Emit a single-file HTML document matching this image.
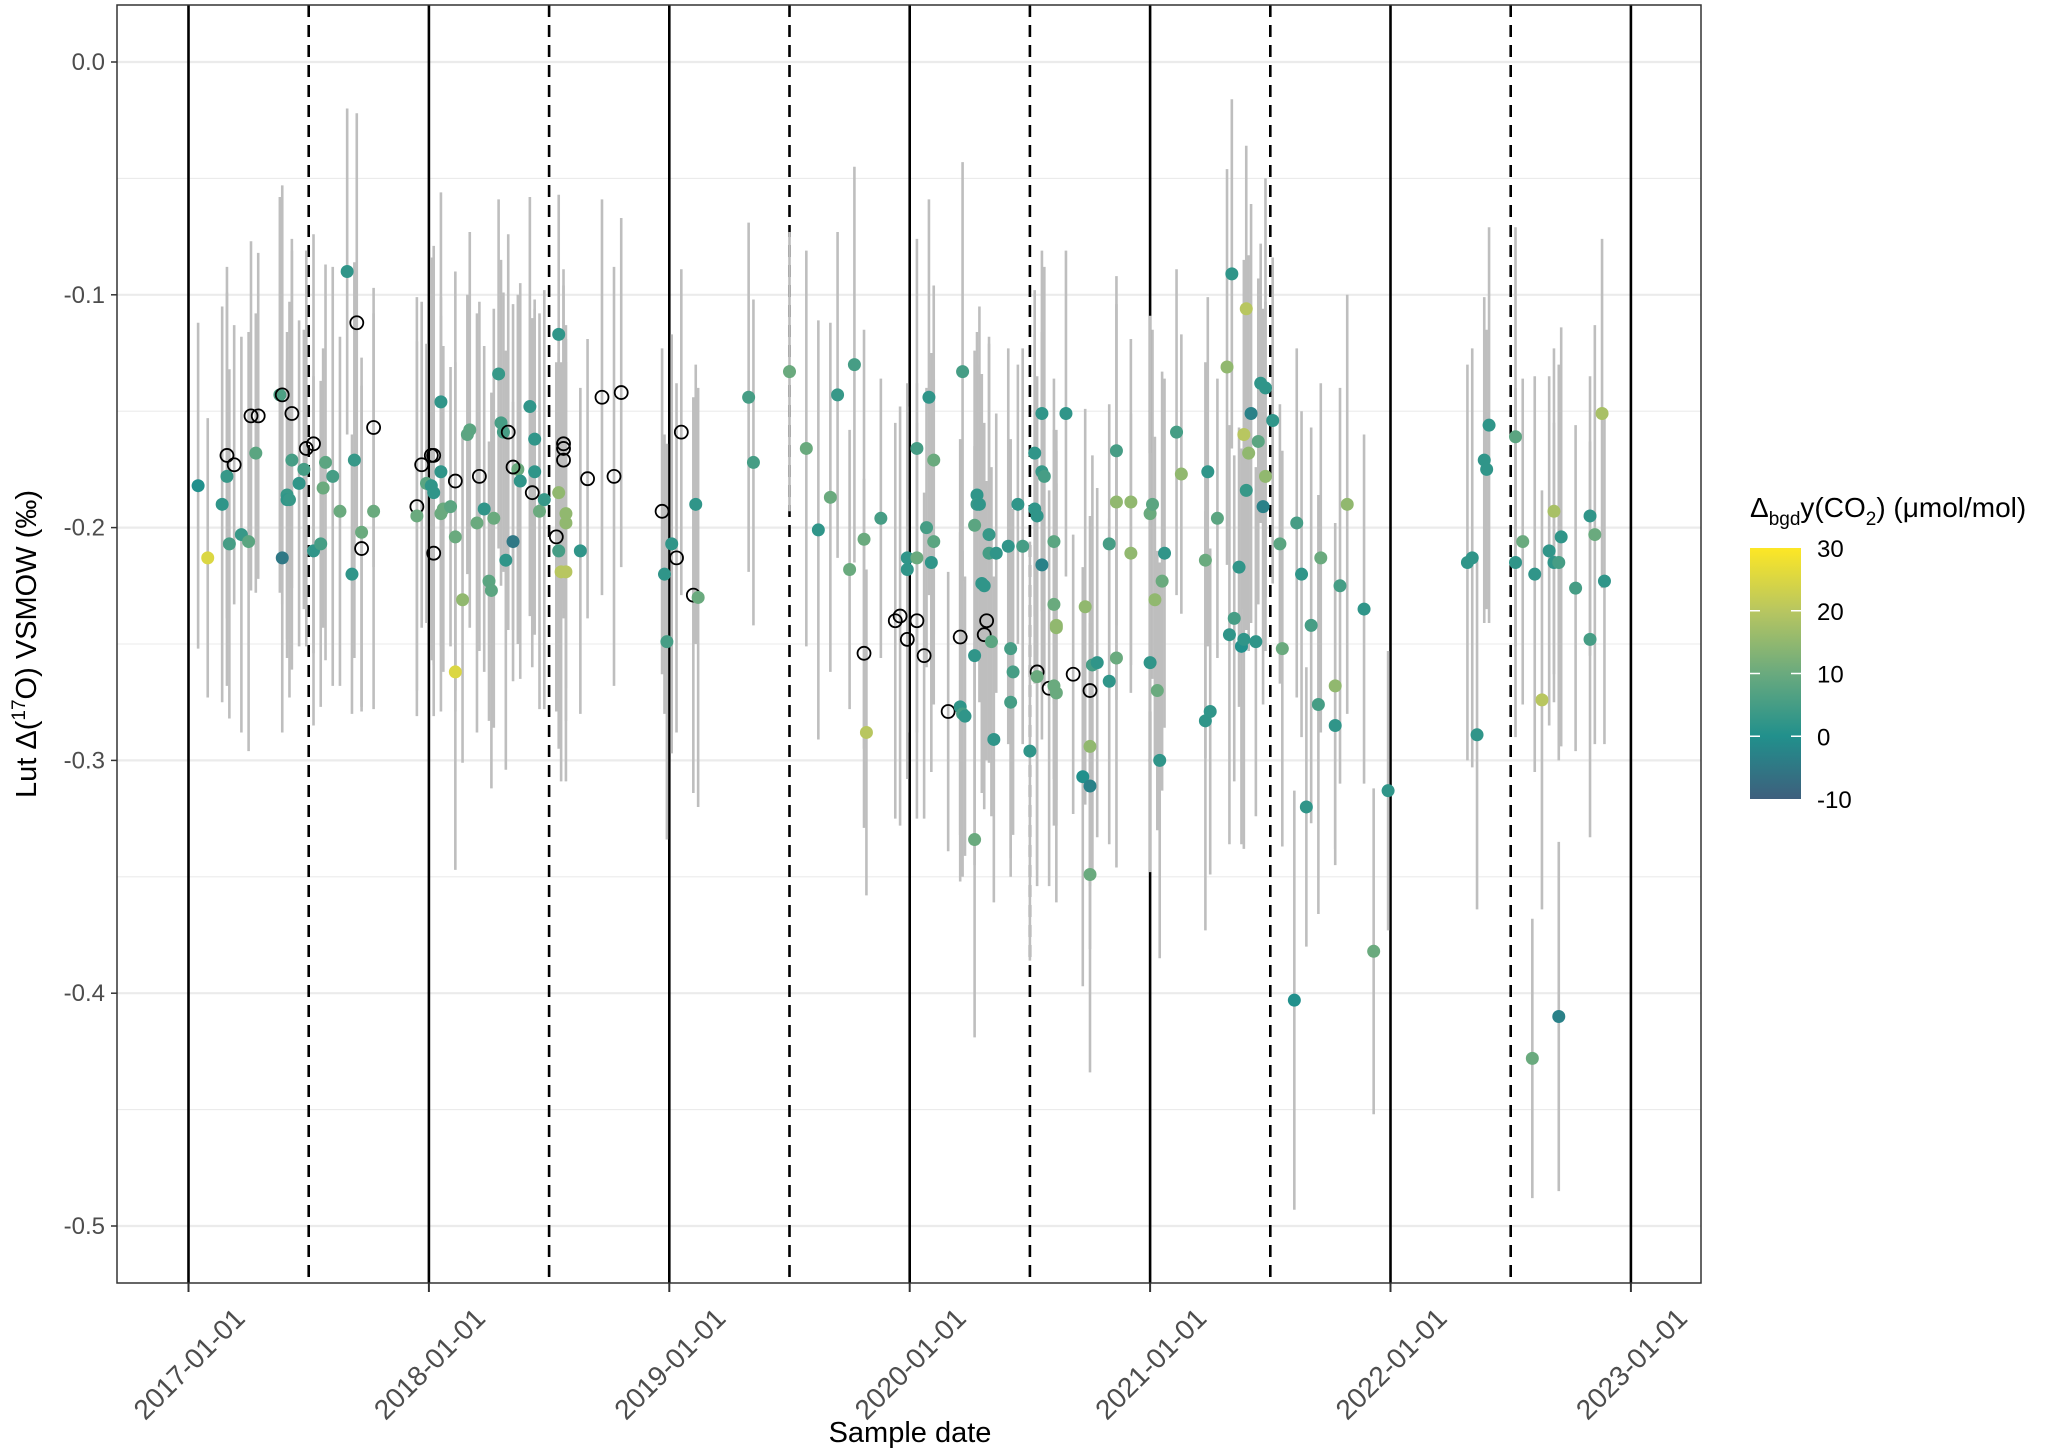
<!DOCTYPE html>
<html><head><meta charset="utf-8"><style>
html,body{margin:0;padding:0;background:#fff}
svg{display:block;font-family:"Liberation Sans",sans-serif}
</style></head><body>
<svg id="chart" width="2067" height="1453" viewBox="0 0 2067 1453" xmlns="http://www.w3.org/2000/svg">
<defs><linearGradient id="vir" x1="0" y1="1" x2="0" y2="0">
<stop offset="0" stop-color="#3e5f7d"/><stop offset="0.25" stop-color="#21908c"/><stop offset="0.5" stop-color="#6aaa7e"/><stop offset="0.75" stop-color="#b8c660"/><stop offset="1" stop-color="#fde725"/></linearGradient></defs>
<g id="grid"></g>
<g id="vlines"></g>
<g id="errs"></g>
<g id="pts"></g>
<rect x="117" y="5" width="1584" height="1278" fill="none" stroke="#333" stroke-width="1.5"/>
<g id="axes"></g>
<text x="910" y="1442" font-size="29" text-anchor="middle" fill="#000">Sample date</text>
<text transform="translate(36,644) rotate(-90)" font-size="29" text-anchor="middle" fill="#000">Lut Δ(<tspan font-size="19" dy="-11">17</tspan><tspan dy="11">O) VSMOW (‰)</tspan></text>
<g>
<text x="1750" y="517" font-size="28" fill="#000">Δ<tspan font-size="19" dy="8">bgd</tspan><tspan dy="-8">y(CO</tspan><tspan font-size="19" dy="8">2</tspan><tspan dy="-8">) (μmol/mol)</tspan></text>
<rect x="1750" y="548" width="51" height="251" fill="url(#vir)"/>
<g id="cbticks"></g>
</g>
</svg>
<script>
const yearTicks=[2017,2018,2019,2020,2021,2022,2023];
const halfYears=[2017.5,2018.5,2019.5,2020.5,2021.5,2022.5];
const yTicks=[0,-0.1,-0.2,-0.3,-0.4,-0.5];
const yTickLabels=["0.0","-0.1","-0.2","-0.3","-0.4","-0.5"];
const cbTicks=[-10,0,10,20,30];
const dates=[
2017.04,2017.08,2017.14,2017.16,2017.17,2017.16,2017.19,2017.22,2017.25,2017.26,
2017.29,2017.28,2017.38,2017.39,2017.39,2017.41,2017.41,2017.42,2017.43,2017.43,
2017.46,2017.48,2017.49,2017.52,2017.52,2017.55,2017.56,2017.57,2017.60,2017.63,
2017.66,2017.68,2017.69,2017.70,2017.72,2017.72,2017.77,2017.77,
2017.95,2017.95,2017.97,2017.99,2018.01,2018.02,2018.01,2018.02,2018.02,2018.05,
2018.05,2018.05,2018.06,2018.09,2018.11,2018.11,2018.11,2018.14,2018.16,2018.17,
2018.20,2018.21,2018.23,2018.25,2018.26,2018.27,2018.29,2018.30,2018.31,2018.33,
2018.32,2018.37,2018.35,2018.35,2018.38,2018.42,2018.43,2018.44,2018.44,2018.46,
2018.48,2018.53,2018.54,2018.54,2018.54,2018.55,2018.56,2018.56,2018.56,2018.57,
2018.57,2018.57,2018.63,2018.66,2018.72,2018.77,2018.80,
2018.97,2018.98,2018.99,2019.01,2019.03,2019.05,2019.11,2019.10,2019.12,2019.33,
2019.35,2019.50,2019.57,2019.62,2019.67,2019.70,2019.75,2019.77,2019.81,2019.81,
2019.82,2019.88,2019.94,2019.96,2019.99,2019.99,2019.99,2020.03,2020.03,2020.03,
2020.06,2020.07,2020.08,2020.09,2020.10,2020.10,2020.16,2020.21,2020.22,2020.21,
2020.22,2020.23,2020.27,2020.27,2020.27,2020.28,2020.28,2020.29,2020.30,2020.31,
2020.31,2020.32,2020.33,2020.33,2020.34,2020.35,2020.36,2020.41,2020.42,2020.42,
2020.43,2020.45,2020.47,2020.50,2020.52,2020.52,2020.53,2020.53,2020.53,2020.55,
2020.55,2020.55,2020.58,2020.56,2020.60,2020.60,2020.60,2020.61,2020.61,2020.61,
2020.65,2020.68,2020.73,2020.72,2020.75,2020.75,2020.75,2020.75,2020.76,2020.78,
2020.83,2020.83,2020.86,2020.86,2020.86,2020.92,2020.92,
2021.00,2021.00,2021.01,2021.02,2021.03,2021.04,2021.05,2021.06,2021.11,2021.13,
2021.23,2021.23,2021.24,2021.25,2021.28,2021.32,2021.33,2021.34,2021.35,2021.37,
2021.38,2021.39,2021.39,2021.40,2021.40,2021.41,2021.42,2021.44,2021.45,2021.46,
2021.47,2021.48,2021.48,2021.51,2021.54,2021.55,2021.60,2021.61,2021.63,2021.65,
2021.67,2021.70,2021.71,2021.77,2021.77,2021.79,2021.82,2021.89,2021.93,2021.99,
2022.32,2022.34,2022.36,2022.39,2022.40,2022.41,2022.52,2022.52,2022.55,2022.59,
2022.60,2022.63,2022.66,2022.68,2022.68,2022.70,2022.71,2022.70,2022.77,2022.83,
2022.83,2022.85,2022.88,2022.89];
const values=[
-0.182,-0.213,-0.190,-0.178,-0.207,-0.169,-0.173,-0.203,-0.206,-0.152,
-0.152,-0.168,-0.143,-0.143,-0.213,-0.186,-0.188,-0.188,-0.171,-0.151,
-0.181,-0.175,-0.166,-0.164,-0.210,-0.207,-0.183,-0.172,-0.178,-0.193,
-0.090,-0.220,-0.171,-0.112,-0.202,-0.209,-0.157,-0.193,
-0.191,-0.195,-0.173,-0.181,-0.169,-0.169,-0.182,-0.211,-0.185,-0.194,
-0.146,-0.176,-0.192,-0.191,-0.262,-0.180,-0.204,-0.231,-0.160,-0.158,
-0.198,-0.178,-0.192,-0.223,-0.227,-0.196,-0.134,-0.155,-0.159,-0.159,
-0.214,-0.175,-0.174,-0.206,-0.180,-0.148,-0.185,-0.176,-0.162,-0.193,
-0.188,-0.204,-0.185,-0.117,-0.210,-0.219,-0.164,-0.166,-0.171,-0.198,
-0.219,-0.194,-0.210,-0.179,-0.144,-0.178,-0.142,
-0.193,-0.220,-0.249,-0.207,-0.213,-0.159,-0.190,-0.229,-0.230,-0.144,
-0.172,-0.133,-0.166,-0.201,-0.187,-0.143,-0.218,-0.130,-0.205,-0.254,
-0.288,-0.196,-0.240,-0.238,-0.213,-0.218,-0.248,-0.240,-0.166,-0.213,
-0.255,-0.200,-0.144,-0.215,-0.171,-0.206,-0.279,-0.247,-0.133,-0.277,
-0.280,-0.281,-0.334,-0.255,-0.199,-0.186,-0.190,-0.190,-0.224,-0.246,
-0.225,-0.240,-0.203,-0.211,-0.249,-0.291,-0.211,-0.208,-0.252,-0.275,
-0.262,-0.190,-0.208,-0.296,-0.192,-0.168,-0.195,-0.262,-0.264,-0.216,
-0.151,-0.176,-0.269,-0.178,-0.233,-0.206,-0.268,-0.243,-0.271,-0.242,
-0.151,-0.263,-0.234,-0.307,-0.270,-0.311,-0.294,-0.349,-0.259,-0.258,
-0.266,-0.207,-0.189,-0.256,-0.167,-0.189,-0.211,
-0.194,-0.258,-0.190,-0.231,-0.270,-0.300,-0.223,-0.211,-0.159,-0.177,
-0.214,-0.283,-0.176,-0.279,-0.196,-0.131,-0.246,-0.091,-0.239,-0.217,
-0.251,-0.248,-0.160,-0.106,-0.184,-0.168,-0.151,-0.249,-0.163,-0.138,
-0.191,-0.140,-0.178,-0.154,-0.207,-0.252,-0.403,-0.198,-0.220,-0.320,
-0.242,-0.276,-0.213,-0.268,-0.285,-0.225,-0.190,-0.235,-0.382,-0.313,
-0.215,-0.213,-0.289,-0.171,-0.175,-0.156,-0.161,-0.215,-0.206,-0.428,
-0.220,-0.274,-0.210,-0.193,-0.215,-0.215,-0.204,-0.410,-0.226,-0.195,
-0.248,-0.203,-0.151,-0.223];
const colorVals=[
0,25,2,3,5,null,null,3,8,null,
null,8,6,null,-5,3,2,3,5,null,
2,5,null,null,2,5,10,8,5,10,
2,2,3,null,10,null,null,10,
null,10,null,8,null,null,2,null,2,10,
2,2,10,8,25,null,10,15,8,8,
10,null,2,8,8,10,3,5,5,null,
2,10,null,-5,2,2,null,2,2,10,
3,null,15,2,5,20,null,null,null,15,
20,15,2,null,null,null,null,
null,2,5,2,null,null,2,null,10,5,
5,10,10,2,10,3,10,5,10,null,
20,5,null,null,2,2,null,null,5,10,
null,5,2,2,10,8,null,null,5,2,
5,2,10,2,8,2,3,2,2,null,
2,null,3,5,8,2,2,2,5,5,
5,2,5,2,2,2,2,null,10,-3,
2,3,null,5,10,8,10,15,10,15,
2,null,15,0,null,-3,15,10,5,2,
2,5,15,10,5,15,15,
10,2,8,15,10,2,10,2,5,15,
10,2,2,2,8,15,2,2,5,2,
0,2,20,20,3,15,-3,2,8,2,
-3,2,15,2,8,10,0,5,2,2,
5,5,10,15,2,5,15,2,10,2,
2,2,2,2,2,2,8,2,10,10,
2,20,2,18,2,5,2,-3,5,2,
5,10,18,2];
const errs=values.map((v,i)=>[0.07,0.06,0.085,0.09,0.075][i%5]);
const NS="http://www.w3.org/2000/svg";
const X=y=>188.5+(y-2017)*240.4;
const Y=v=>62-v*2328;
function mk(tag,attrs,parent){const e=document.createElementNS(NS,tag);for(const k in attrs)e.setAttribute(k,attrs[k]);document.getElementById(parent).appendChild(e);return e;}
const stops=[[-10,[62,95,125]],[0,[33,144,140]],[10,[106,170,126]],[20,[184,198,96]],[30,[253,231,37]]];
function col(c){c=Math.max(-10,Math.min(30,c));for(let i=0;i<4;i++){const a=stops[i],b=stops[i+1];if(c<=b[0]){const t=(c-a[0])/(b[0]-a[0]);return "rgb("+a[1].map((x,j)=>Math.round(x+(b[1][j]-x)*t)).join(",")+")";}}}
for(let k=0;k<=10;k++){const v=-k*0.05;const major=k%2===0;
const g=mk("line",{x1:117,x2:1701,y1:Y(v),y2:Y(v),stroke:"#ebebeb","stroke-width":major?2.2:1.1},"grid");

}
yearTicks.forEach(y=>{const l=mk("line",{x1:X(y),x2:X(y),y1:5,y2:1283,stroke:"#000","stroke-width":2.6},"vlines");

});
halfYears.forEach(y=>{const l=mk("line",{x1:X(y),x2:X(y),y1:5,y2:1283,stroke:"#000","stroke-width":2.6,"stroke-dasharray":"12,8"},"vlines");

});
dates.forEach((d,i)=>{const e=mk("line",{x1:X(d),x2:X(d),y1:Y(values[i]+errs[i]),y2:Y(values[i]-errs[i]),stroke:"#bebebe","stroke-width":2.6},"errs");

});
dates.forEach((d,i)=>{const c=colorVals[i];const p=mk("circle",{cx:X(d),cy:Y(values[i]),r:6.5,fill:c==null?"none":col(c),stroke:c==null?"#000":"none","stroke-width":1.8},"pts");

});
yTicks.forEach((v,i)=>{const t=mk("line",{x1:111,x2:117,y1:Y(v),y2:Y(v),stroke:"#333","stroke-width":1.5},"axes");


const s=mk("text",{x:105,y:Y(v)+8,"font-size":24,"text-anchor":"end",fill:"#4d4d4d"},"axes");s.textContent=yTickLabels[i];

});
yearTicks.forEach(y=>{const t=mk("line",{x1:X(y),x2:X(y),y1:1283,y2:1292,stroke:"#333","stroke-width":2},"axes");


const s=mk("text",{transform:"translate("+(X(y)+58)+",1320) rotate(-45)","font-size":28,"text-anchor":"end",fill:"#4d4d4d"},"axes");s.textContent=y+"-01-01";

});
cbTicks.forEach(c=>{const yy=799-(c+10)/40*251;
if(c>-10&&c<30){mk("line",{x1:1750,x2:1760,y1:yy,y2:yy,stroke:"#fff","stroke-width":1.5},"cbticks");mk("line",{x1:1791,x2:1801,y1:yy,y2:yy,stroke:"#fff","stroke-width":1.5},"cbticks");}
const s=mk("text",{x:1817,y:yy+9,"font-size":24,fill:"#000"},"cbticks");s.textContent=c;

});
</script>
</body></html>
